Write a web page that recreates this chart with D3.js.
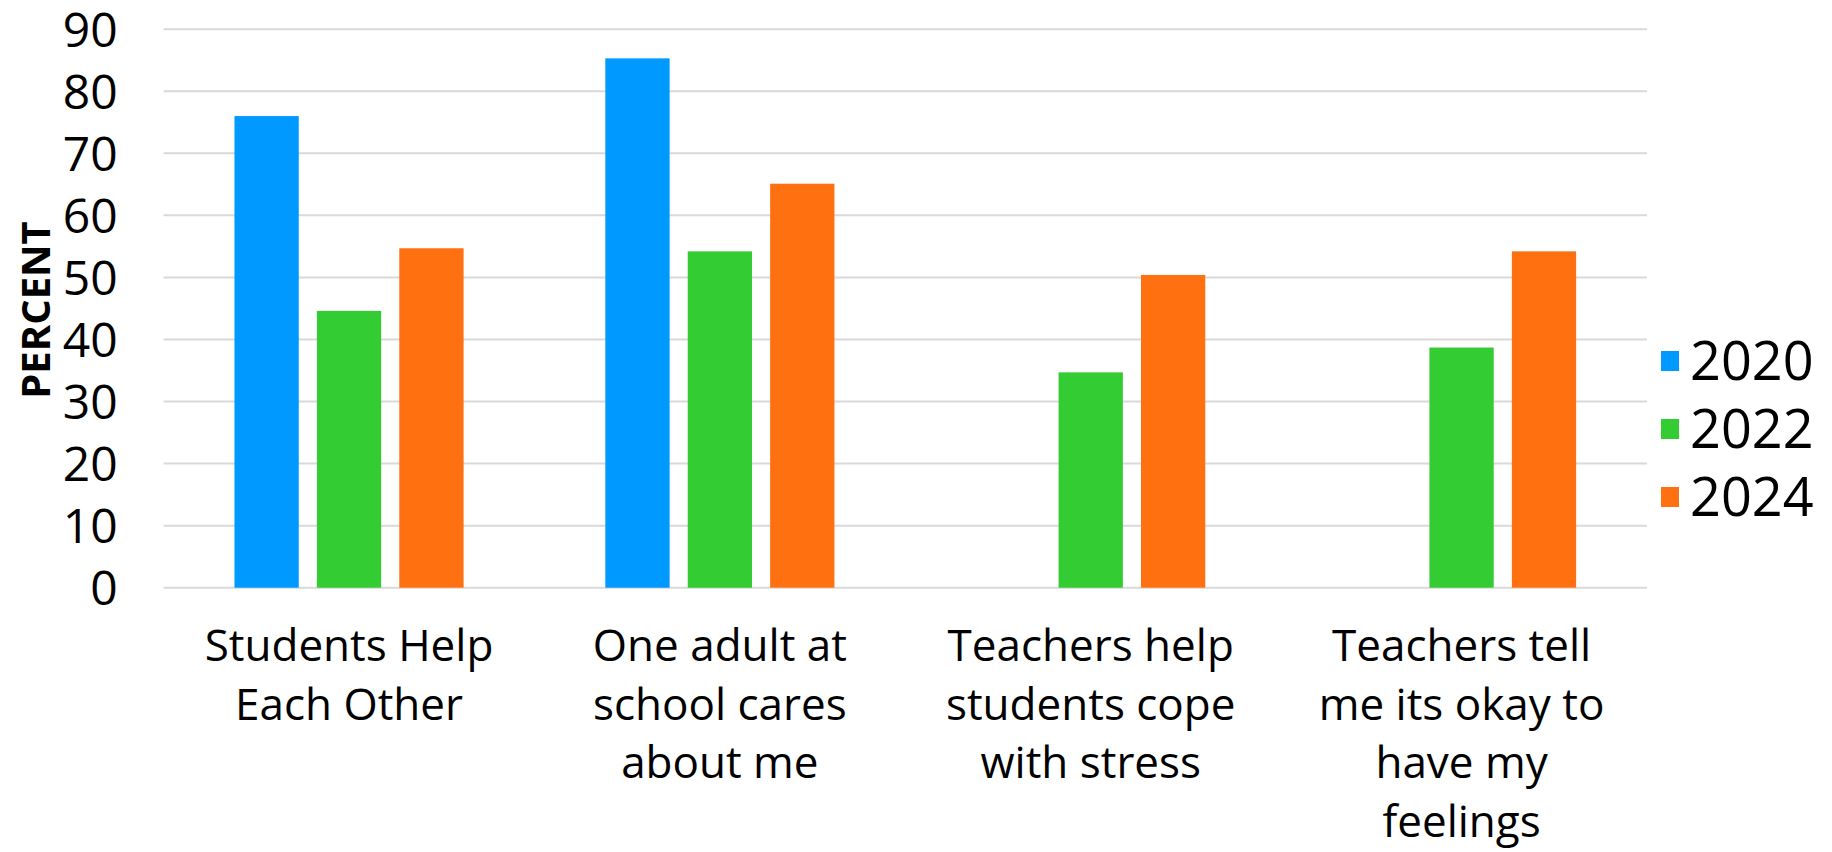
<!DOCTYPE html>
<html>
<head>
<meta charset="utf-8">
<script src="https://cdn.jsdelivr.net/npm/d3@7"></script>
<style>
  body { margin: 0; background: #fff; }
  text { font-family: "Open Sans", "Liberation Sans", sans-serif; fill: #000; }
</style>
</head>
<body>
<script>
// categories (label lines as shown under the axis)
const categories = [
  ["Students Help", "Each Other"],
  ["One adult at", "school cares", "about me"],
  ["Teachers help", "students cope", "with stress"],
  ["Teachers tell", "me its okay to", "have my", "feelings"]
];
const years = ["2020", "2022", "2024"];
const colors = ["#0099ff", "#33cc33", "#ff7010"];

// series values (null = no bar)
const v2020 = [76, 85.3, null, null];
const v2022 = [44.6, 54.2, 34.7, 38.7];
const v2024 = [54.7, 65.1, 50.4, 54.2];
const yTicks = [0, 10, 20, 30, 40, 50, 60, 70, 80, 90];

const series = [v2020, v2022, v2024];

const W = 1832, H = 852;
const plotLeft = 163.6, plotRight = 1647, plotTop = 29.2, plotBottom = 587.7;

const svg = d3.select("body").append("svg")
  .attr("width", W)
  .attr("height", H);

const x0 = d3.scaleBand()
  .domain(d3.range(categories.length))
  .range([plotLeft, plotRight])
  .padding(0);

const x1 = d3.scaleBand()
  .domain(years)
  .range([0, x0.bandwidth()])
  .paddingInner(0.22)
  .paddingOuter(0.86);

const y = d3.scaleLinear()
  .domain([0, 90])
  .range([plotBottom, plotTop]);

// gridlines
svg.append("g")
  .selectAll("line")
  .data(yTicks)
  .enter()
  .append("line")
  .attr("x1", plotLeft)
  .attr("x2", plotRight)
  .attr("y1", d => y(d))
  .attr("y2", d => y(d))
  .attr("stroke", "#d9d9d9")
  .attr("stroke-width", 2);

// y axis labels
const yAxis = d3.axisLeft(y).tickValues(yTicks).tickSize(0).tickPadding(0);
const ya = svg.append("g")
  .attr("transform", `translate(${plotLeft - 46},0)`)
  .call(yAxis);
ya.select(".domain").remove();
ya.selectAll("text")
  .attr("font-size", 48)
  .attr("font-family", "'Open Sans', sans-serif")
  .attr("fill", "#000")
  .attr("dy", "0.36em");

// axis title
svg.append("text")
  .attr("transform", "translate(50,310) rotate(-90)")
  .attr("text-anchor", "middle")
  .attr("font-size", 40)
  .attr("font-weight", "bold")
  .text("PERCENT");

// bars
const groups = svg.append("g")
  .selectAll("g")
  .data(categories)
  .enter()
  .append("g")
  .attr("transform", (d, i) => `translate(${x0(i)},0)`);

groups.selectAll("rect")
  .data((d, i) => series
    .map((s, k) => ({ year: years[k], value: s[i], color: colors[k] }))
    .filter(b => b.value != null))
  .enter()
  .append("rect")
  .attr("x", d => x1(d.year))
  .attr("y", d => y(d.value))
  .attr("width", x1.bandwidth())
  .attr("height", d => y(0) - y(d.value))
  .attr("fill", d => d.color);

// category labels
svg.append("g")
  .selectAll("text")
  .data(categories)
  .enter()
  .append("text")
  .attr("text-anchor", "middle")
  .attr("font-size", 44)
  .attr("x", (d, i) => x0(i) + x0.bandwidth() / 2)
  .attr("y", 661)
  .each(function (lines) {
    const t = d3.select(this);
    lines.forEach((ln, j) => {
      t.append("tspan")
        .attr("x", t.attr("x"))
        .attr("dy", j === 0 ? 0 : 58.5)
        .text(ln);
    });
  });

// legend
const legend = svg.append("g")
  .selectAll("g")
  .data(years)
  .enter()
  .append("g")
  .attr("transform", (d, i) => `translate(1661,${361 + i * 68})`);

legend.append("rect")
  .attr("x", 0)
  .attr("y", -10)
  .attr("width", 18)
  .attr("height", 20)
  .attr("fill", (d, i) => colors[i]);

legend.append("text")
  .attr("x", 29)
  .attr("y", 0)
  .attr("dy", "0.36em")
  .attr("font-size", 54)
  .text(d => d);
</script>
</body>
</html>
